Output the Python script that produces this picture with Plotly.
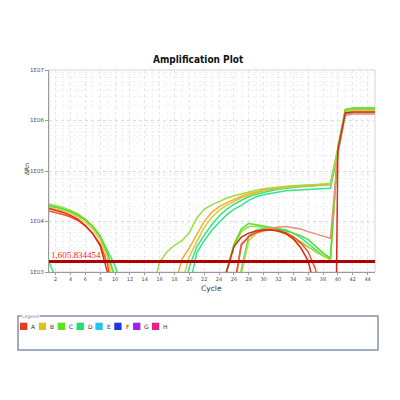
import math
import plotly.graph_objects as go

# ---------------- data ----------------
cycle_ticks = list(range(2, 45, 2))
y_tick_values = [1e3, 1e4, 1e5, 1e6, 1e7]
y_tick_labels = ["1E03", "1E04", "1E05", "1E06", "1E07"]
threshold = 1605.834454
threshold_label = "1,605.834454"
legend_names = ["A", "B", "C", "D", "E", "F", "G", "H"]
legend_colors = ["#e83a1c", "#e0c01c", "#5ee01c", "#1ee070",
                 "#22c4ea", "#2038e0", "#a020e6", "#e62288"]

BELOW = -8  # log10 placeholder for negative (off-scale) dRn

# log10(dRn) per cycle, starting at the given cycle
# early-cycle (baseline) segments
L_A_start = 1
L_A = [4.26, 4.22, 4.18, 4.12, 4.04, 3.92, 3.76, 3.52, 2.98, 2.0]
L_A2_start = 1
L_A2 = [4.21, 4.18, 4.14, 4.09, 4.02, 3.91, 3.76, 3.55, 3.15, 2.2]
L_B_start = 1
L_B = [4.28, 4.25, 4.21, 4.16, 4.09, 3.99, 3.85, 3.64, 3.28, 2.6]
L_C_start = 1
L_C = [4.32, 4.29, 4.25, 4.20, 4.13, 4.03, 3.90, 3.70, 3.35, 2.9, 1.5]
L_C2_start = 1
L_C2 = [4.35, 4.32, 4.28, 4.22, 4.15, 4.05, 3.91, 3.70, 3.36, 2.85, 1.5]
L_D_start = 1
L_D = [4.30, 4.28, 4.24, 4.19, 4.12, 4.03, 3.90, 3.71, 3.42, 3.12, 2.7]
L_D2_start = 1
L_D2 = [3.22, 2.9, 2.0]

# amplifying wells (plateau ~5e4, then jump)
G2_yg_start = 15
G2_yg = [2.6, 3.2, 3.4, 3.53, 3.62, 3.78, 4.07, 4.24, 4.33, 4.40, 4.46, 4.51,
         4.55, 4.59, 4.62, 4.65, 4.67, 4.69, 4.70, 4.71, 4.72, 4.73, 4.74,
         4.74, 4.75, 5.45, 6.19, 6.23, 6.23, 6.23, 6.23]
G2_or_start = 18
G2_or = [2.7, 3.25, 3.48, 3.75, 4.0, 4.18, 4.29, 4.37, 4.44, 4.50, 4.55, 4.59,
         4.62, 4.64, 4.66, 4.68, 4.69, 4.70, 4.71, 4.72, 4.72, 4.73, 5.4,
         6.17, 6.20, 6.20, 6.20, 6.20]
G2_ye_start = 19
G2_ye = [2.8, 3.3, 3.6, 3.88, 4.08, 4.22, 4.32, 4.40, 4.47, 4.52, 4.57, 4.61,
         4.64, 4.66, 4.68, 4.70, 4.71, 4.72, 4.73, 4.74, 4.75, 5.45, 6.20,
         6.22, 6.22, 6.22, 6.22]
G2_sg_start = 19
G2_sg = [2.5, 3.1, 3.5, 3.73, 3.93, 4.11, 4.24, 4.34, 4.42, 4.49, 4.54, 4.58,
         4.61, 4.64, 4.66, 4.68, 4.69, 4.70, 4.71, 4.72, 4.73, 5.42, 6.20,
         6.24, 6.24, 6.24, 6.24]
G2_sg2_start = 20
G2_sg2 = [2.7, 3.38, 3.62, 3.82, 3.98, 4.13, 4.24, 4.32, 4.42, 4.49, 4.53,
          4.56, 4.59, 4.61, 4.62, 4.63, 4.64, 4.65, 4.66, 4.66, 5.35, 6.13,
          6.15, 6.15, 6.15, 6.15]

# late arcs
G3_A_start = 24
G3_A = [2.0, 3.0, 3.50, 3.69, 3.77, 3.81, 3.83, 3.83, 3.81, 3.76, 3.66, 3.48,
        3.22, 2.6, BELOW, BELOW, 5.42, 6.15, 6.17, 6.17, 6.17, 6.17]
G3_or_start = 26
G3_or = [2.7, 3.55, 3.70, 3.78, 3.82, 3.83, 3.82, 3.78, 3.70, 3.58, 3.40,
         3.05, 2.0]
G3_C_start = 24
G3_C = [2.0, 3.02, 3.55, 3.85, 3.96, 3.94, 3.91, 3.88, 3.85, 3.81, 3.77,
        3.72, 3.64, 3.50, 3.38, 3.27, 5.45, 6.22, 6.25, 6.25, 6.25, 6.25]
G3_yg_start = 24
G3_yg = [2.0, 3.0, 3.50, 3.80, 3.90, 3.90, 3.88, 3.85, 3.80, 3.75, 3.68,
         3.60, 3.50, 3.40, 3.32, 3.27]
G3_sa_start = 26
G3_sa = [2.6, 3.52, 3.70, 3.79, 3.84, 3.87, 3.89, 3.90, 3.88, 3.85, 3.80,
         3.75, 3.71, 3.67, 5.35, 6.10, 6.13, 6.13, 6.13, 6.13]
G3_B_start = 26
G3_B = [2.0, 2.95, 3.62, 3.76, 3.81, 3.83, 3.82, 3.76, 3.64, 3.57, 3.50,
        3.42, 3.32, 3.24, 5.42, 6.18, 6.20, 6.20, 6.20, 6.20]
G3_D_start = 26
G3_D = [2.0, 3.05, 3.72, 3.83, 3.86, 3.87, 3.86, 3.83, 3.77, 3.68, 3.56,
        3.44, 3.33, 3.25, 5.40, 6.17, 6.20, 6.20, 6.20, 6.20]

RED = "#e0281a"
ORANGE_RED = "#f0502a"
SALMON = "#f28a78"
ORANGE = "#f0b030"
YELLOW = "#e2c830"
YGREEN = "#9ade40"
GREEN = "#52e02a"
SPRING = "#34e48a"

curves = [
    (L_D2_start, L_D2, SPRING), (L_D_start, L_D, SPRING),
    (L_C2_start, L_C2, YGREEN), (L_C_start, L_C, GREEN),
    (L_B_start, L_B, YELLOW), (L_A2_start, L_A2, ORANGE_RED),
    (G2_sg2_start, G2_sg2, SPRING), (G2_sg_start, G2_sg, SPRING),
    (G2_ye_start, G2_ye, YELLOW), (G2_or_start, G2_or, ORANGE),
    (G2_yg_start, G2_yg, YGREEN),
    (G3_D_start, G3_D, SPRING), (G3_B_start, G3_B, YELLOW),
    (G3_yg_start, G3_yg, YGREEN), (G3_C_start, G3_C, GREEN),
    (G3_sa_start, G3_sa, SALMON), (G3_or_start, G3_or, ORANGE_RED),
    (L_A_start, L_A, RED), (G3_A_start, G3_A, RED),
]

# ---------------- layout geometry (page pixels) ----------------
OFF = 8                      # default body margin of the html page
W, H = 400 - OFF, 400 - OFF  # figure size
PL, PR, PT, PB = 49, 375, 70, 272   # plot area in page pixels


def px(x):
    return (x - PL) / (PR - PL)


def py(y):
    return (PB - y) / (PB - PT)


fig = go.Figure()
for start, vals, col in curves:
    xs = list(range(start, start + len(vals)))
    ys = [10 ** v for v in vals]
    fig.add_trace(go.Scatter(x=xs, y=ys, mode="lines",
                             line=dict(color=col, width=1.5),
                             showlegend=False, hoverinfo="skip"))

# threshold line
fig.add_trace(go.Scatter(x=[0, 46], y=[threshold, threshold], mode="lines",
                         line=dict(color="#b00000", width=3),
                         showlegend=False, hoverinfo="skip"))

fig.update_layout(
    width=W, height=H,
    margin=dict(l=PL - OFF, r=400 - PR, t=PT - OFF, b=400 - PB, pad=0),
    paper_bgcolor="white", plot_bgcolor="white",
    font=dict(family="DejaVu Sans, Liberation Sans", size=6, color="#404040"),
    xaxis=dict(range=[1.1, 45.0], tickvals=cycle_ticks,
               ticktext=[str(t) for t in cycle_ticks],
               showgrid=True, gridcolor="#e6e6e6", griddash="dot", gridwidth=1,
               minor=dict(dtick=1, showgrid=True, gridcolor="#f3f3f3", griddash="dot"),
               showline=True, linecolor="#9a9a9a", linewidth=1,
               ticks="outside", ticklen=2, tickcolor="#9a9a9a",
               tickfont=dict(size=5, color="#505050"), zeroline=False),
    yaxis=dict(type="log", range=[3, 7], tickvals=y_tick_values,
               ticktext=y_tick_labels,
               showgrid=True, gridcolor="#dcdcdc", griddash="dot", gridwidth=1,
               minor=dict(dtick="D1", showgrid=True, gridcolor="#f1f1f1", griddash="dot"),
               showline=True, linecolor="#9a9a9a", linewidth=1,
               ticks="outside", ticklen=3, tickcolor="#9a9a9a",
               tickfont=dict(size=5.5, color="#505050"), zeroline=False),
)

shapes = [
    dict(type="rect", xref="paper", yref="paper", x0=0, x1=1, y0=0, y1=1,
         line=dict(color="#d4d4d4", width=1), layer="below"),
    dict(type="rect", xref="paper", yref="paper", x0=px(18), x1=px(378),
         y0=py(316), y1=py(350), line=dict(color="#8494ac", width=1.5)),
]
annotations = [
    dict(text="<b>Amplification Plot</b>", xref="paper", yref="paper",
         x=px(198), y=py(60), showarrow=False, xanchor="center", yanchor="middle",
         font=dict(family="Liberation Sans Narrow, DejaVu Sans Condensed, Liberation Sans",
                   size=10, color="#111111")),
    dict(text="Cycle", xref="paper", yref="paper", x=px(211), y=py(288),
         showarrow=False, xanchor="center", yanchor="middle",
         font=dict(size=7.5, color="#333333")),
    dict(text="ΔRn", xref="paper", yref="paper", x=px(26), y=py(169),
         showarrow=False, textangle=-90, xanchor="center", yanchor="middle",
         font=dict(size=6, color="#333333")),
    dict(text=threshold_label, xref="paper", yref="y", x=0,
         y=math.log10(threshold), xanchor="left", yanchor="bottom", yshift=0,
         showarrow=False,
         font=dict(family="Liberation Serif, DejaVu Serif", size=9, color="#ff1a1a")),
    dict(text="Legend", xref="paper", yref="paper", x=px(21), y=py(316),
         xanchor="left", yanchor="middle", showarrow=False, bgcolor="white",
         font=dict(size=4.5, color="#7080a0"), borderpad=0),
]
for i, (name, col) in enumerate(zip(legend_names, legend_colors)):
    x0 = 20 + 18.85 * i
    shapes.append(dict(type="rect", xref="paper", yref="paper",
                       x0=px(x0), x1=px(x0 + 7.3), y0=py(330), y1=py(322.7),
                       line=dict(width=0), fillcolor=col))
    annotations.append(dict(text=name, xref="paper", yref="paper",
                            x=px(x0 + 9.3), y=py(326.5), xanchor="left",
                            yanchor="middle", showarrow=False,
                            font=dict(size=6, color="#333333")))

fig.update_layout(shapes=shapes, annotations=annotations)
fig.write_html("out.html")
